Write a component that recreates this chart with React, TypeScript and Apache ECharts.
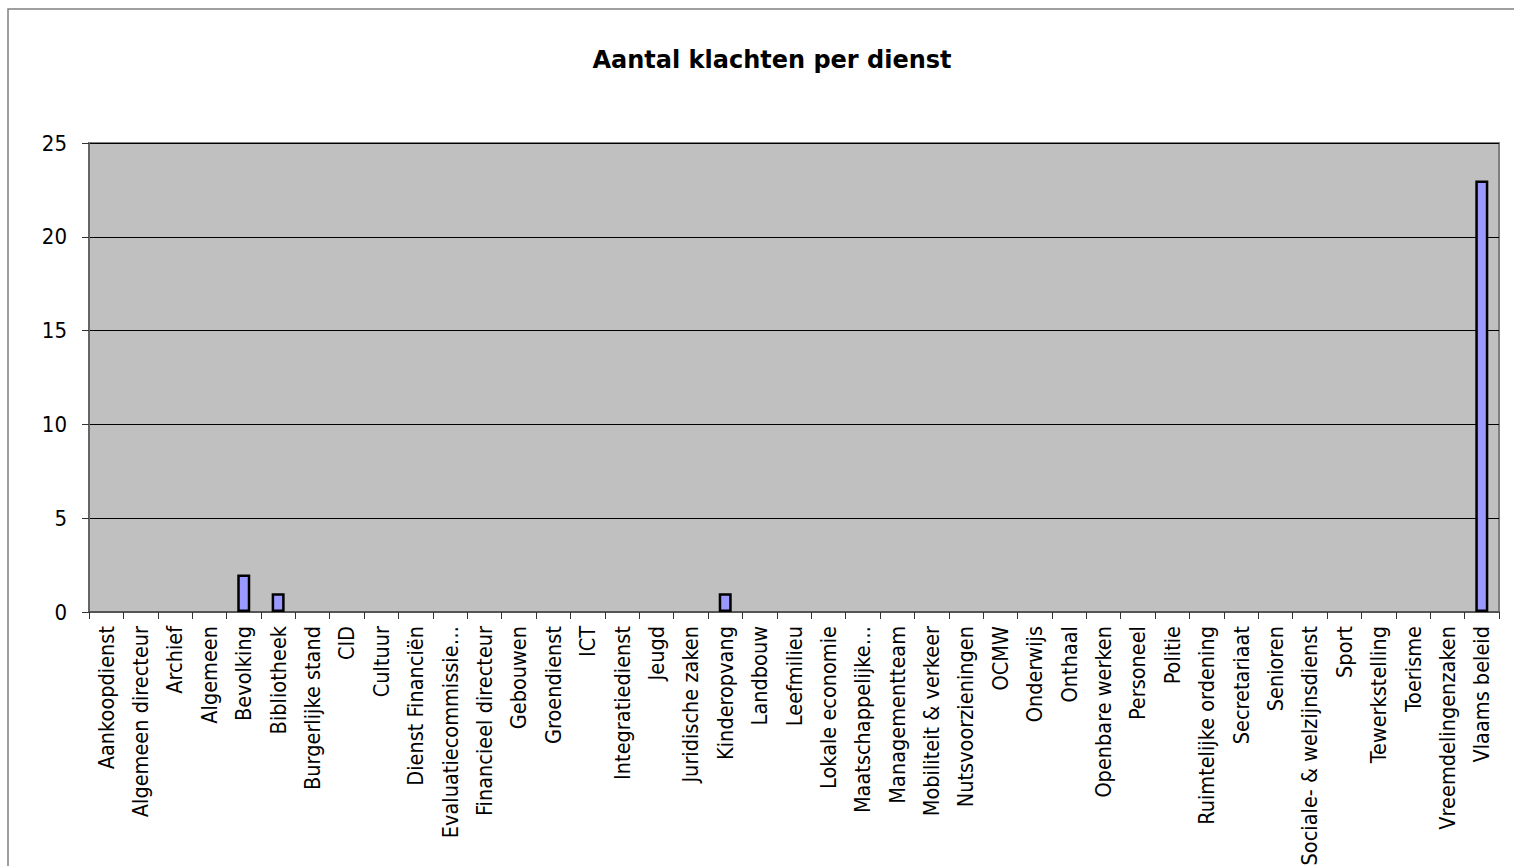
import React, { useEffect, useRef } from "react";
import * as echarts from "echarts";

const titleText = "Aantal klachten per dienst";

const categories: string[] = [
  "Aankoopdienst",
  "Algemeen directeur",
  "Archief",
  "Algemeen",
  "Bevolking",
  "Bibliotheek",
  "Burgerlijke stand",
  "CID",
  "Cultuur",
  "Dienst Financiën",
  "Evaluatiecommissie…",
  "Financieel directeur",
  "Gebouwen",
  "Groendienst",
  "ICT",
  "Integratiedienst",
  "Jeugd",
  "Juridische zaken",
  "Kinderopvang",
  "Landbouw",
  "Leefmilieu",
  "Lokale economie",
  "Maatschappelijke…",
  "Managementteam",
  "Mobiliteit & verkeer",
  "Nutsvoorzieningen",
  "OCMW",
  "Onderwijs",
  "Onthaal",
  "Openbare werken",
  "Personeel",
  "Politie",
  "Ruimtelijke ordening",
  "Secretariaat",
  "Senioren",
  "Sociale- & welzijnsdienst",
  "Sport",
  "Tewerkstelling",
  "Toerisme",
  "Vreemdelingenzaken",
  "Vlaams beleid",
];

const klachten: number[] = [
  0, 0, 0, 0, 2, 1, 0, 0, 0, 0, 0, 0, 0, 0, 0, 0, 0, 0, 1, 0, 0, 0, 0, 0, 0,
  0, 0, 0, 0, 0, 0, 0, 0, 0, 0, 0, 0, 0, 0, 0, 23,
];

const yTicks = { min: 0, max: 25, interval: 5 };

const FONT = "'DejaVu Sans Condensed', 'DejaVu Sans', sans-serif";

export default function App() {
  const ref = useRef<HTMLDivElement>(null);
  useEffect(() => {
    if (!ref.current) return;
    const chart = echarts.init(ref.current, undefined, { renderer: "svg" });
    const barData = klachten.map((v) =>
      v === 0 ? { value: v, itemStyle: { borderWidth: 0, opacity: 0 } } : { value: v }
    );
    chart.setOption({
      animation: false,
      backgroundColor: "#ffffff",
      graphic: [
        {
          type: "rect",
          shape: { x: 8, y: 9, width: 1530, height: 880 },
          style: { fill: "none", stroke: "#808080", lineWidth: 1.5 },
          silent: true,
          z: 0,
        },
        {
          type: "text",
          x: 772,
          y: 60,
          style: {
            text: titleText,
            fontFamily: "'DejaVu Sans', sans-serif",
            fontWeight: "bold",
            fontSize: 24,
            fill: "#000",
            textAlign: "center",
            textVerticalAlign: "middle",
          },
          z: 10,
        },
      ],
      grid: {
        left: 89,
        top: 143,
        right: 15,
        bottom: 254,
        show: true,
        containLabel: false,
        outerBoundsMode: "none",
        backgroundColor: "#C0C0C0",
        borderColor: "#808080",
        borderWidth: 2,
      },
      xAxis: {
        type: "category",
        data: categories,
        boundaryGap: true,
        axisLine: { show: true, lineStyle: { color: "#555", width: 2 } },
        axisTick: {
          show: true,
          interval: 0,
          alignWithLabel: false,
          length: 7,
          lineStyle: { color: "#333", width: 1 },
        },
        axisLabel: {
          interval: 0,
          rotate: 90,
          margin: 14,
          fontSize: 21.5,
          fontFamily: FONT,
          color: "#000",
        },
        splitLine: { show: false },
      },
      yAxis: {
        type: "value",
        min: yTicks.min,
        max: yTicks.max,
        interval: yTicks.interval,
        axisLine: { show: true, lineStyle: { color: "#666", width: 2 } },
        axisTick: { show: true, length: 7, lineStyle: { color: "#333", width: 1 } },
        axisLabel: {
          margin: 22,
          fontSize: 22,
          fontFamily: FONT,
          color: "#000",
        },
        splitLine: { show: true, lineStyle: { color: "#000", width: 1 } },
      },
      series: [
        {
          type: "bar",
          data: barData,
          barWidth: 13,
          itemStyle: {
            color: "#9999FF",
            borderColor: "#000",
            borderWidth: 2.5,
          },
          emphasis: { disabled: true },
        },
      ],
    });
    return () => chart.dispose();
  }, []);
  return (
    <div
      ref={ref}
      style={{ position: "fixed", left: 0, top: 0, width: 1514, height: 866 }}
    />
  );
}
